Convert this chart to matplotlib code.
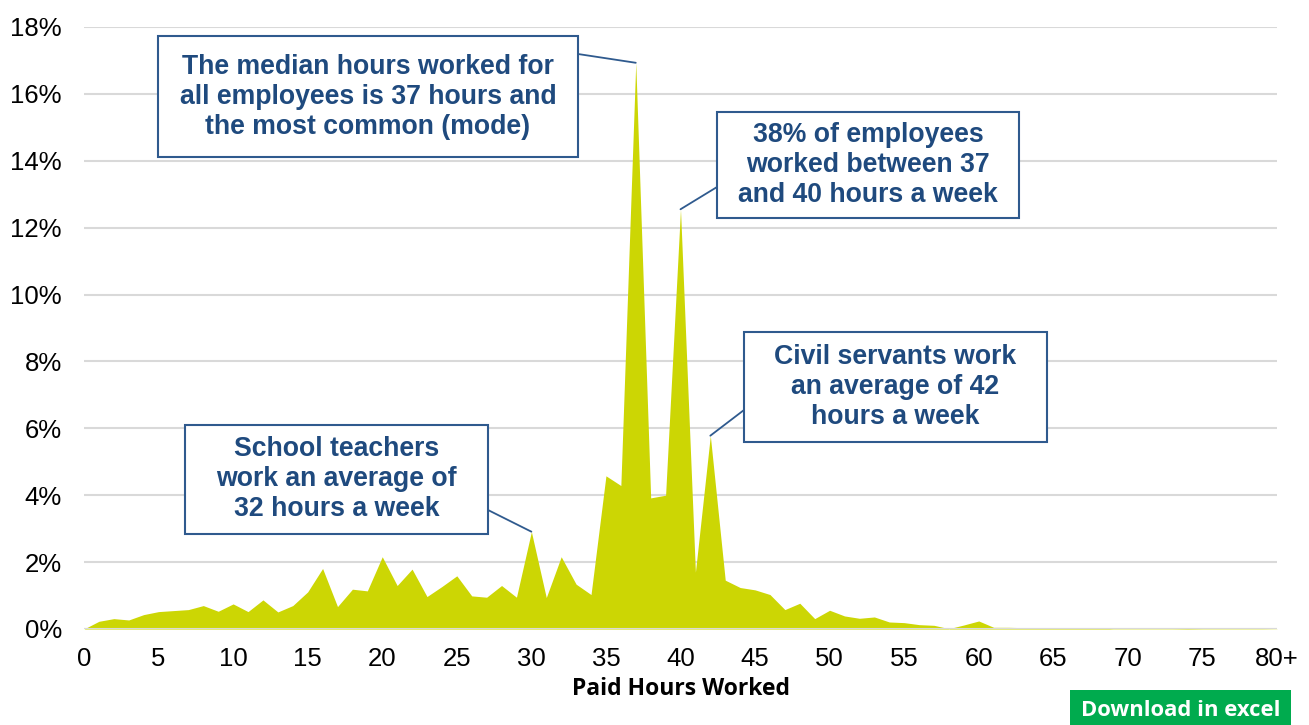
import matplotlib
matplotlib.use("Agg")
import matplotlib.pyplot as plt
from matplotlib.patches import Rectangle
import numpy as np

hours = list(range(0, 81))
share_pct = [0.00, 0.23, 0.31, 0.27, 0.43, 0.52, 0.55, 0.58, 0.70, 0.53,
             0.75, 0.52, 0.87, 0.51, 0.70, 1.11, 1.81, 0.67, 1.19, 1.14,
             2.16, 1.30, 1.79, 0.97, 1.27, 1.59, 0.99, 0.95, 1.30, 0.95,
             2.91, 0.94, 2.16, 1.34, 1.03, 4.58, 4.29, 16.93, 3.92, 4.00,
             12.55, 1.70, 5.78, 1.46, 1.24, 1.17, 1.03, 0.58, 0.77, 0.31,
             0.56, 0.39, 0.32, 0.36, 0.21, 0.19, 0.13, 0.11, 0.01, 0.12,
             0.24, 0.05, 0.05, 0.04, 0.03, 0.02, 0.015, 0.015, 0.03, 0.01,
             0.01, 0.01, 0.01, 0.01, 0.015, 0.01, 0.01, 0.01, 0.01, 0.01,
             0.005]
xtick_vals = list(range(0, 81, 5))
xtick_labels = [str(v) for v in range(0, 80, 5)] + ["80+"]
ytick_vals = list(range(0, 19, 2))
ytick_labels = [f"{v}%" for v in ytick_vals]

annotations = [
    ("The median hours worked for\nall employees is 37 hours and\nthe most common (mode)", 37),
    ("38% of employees\nworked between 37\nand 40 hours a week", 40),
    ("Civil servants work\nan average of 42\nhours a week", 42),
    ("School teachers\nwork an average of\n32 hours a week", 30),
]
# box geometry in pixels (left, top, right, bottom), leader start (x, y)
box_px = [(158, 36, 578, 157), (717, 112, 1019, 218),
          (744, 332, 1047, 442), (185, 425, 488, 534)]
lead_px = [(578, 54), (717, 187), (744, 410), (488, 510)]

W, H = 1309, 725
fig = plt.figure(figsize=(W / 100, H / 100), dpi=100)
ax = fig.add_axes([84 / W, 1 - 629 / H, (1277 - 84) / W, (629 - 27) / H])

FILL = "#ccd604"
TXT = "#1f4a7e"
BORDER = "#2f5a8e"
font = ["Liberation Sans", "Arial", "DejaVu Sans"]

ax.fill_between(hours, share_pct, 0, color=FILL, linewidth=0, zorder=3)
ax.set_xlim(0, 80)
ax.set_ylim(0, 18)
ax.set_yticks(ytick_vals)
ax.set_yticklabels(ytick_labels, fontsize=18.5, family=font)
ax.set_xticks(xtick_vals)
ax.set_xticklabels(xtick_labels, fontsize=18.5, family=font)
ax.tick_params(length=0, pad=16, colors="black")
ax.tick_params(axis="x", pad=13)
for s in ax.spines.values():
    s.set_visible(False)
ax.grid(axis="y", color="#d9d9d9", linewidth=1.5, zorder=1)
ax.axhline(0, color="#d9d9d9", linewidth=1.5, zorder=4)
ax.set_axisbelow(True)

ax.set_xlabel("Paid Hours Worked", fontsize=16.5, fontweight="bold",
              family=["Open Sans", "DejaVu Sans"], labelpad=4)

for (txt, h), (l, t, r, b), (lx, ly) in zip(annotations, box_px, lead_px):
    fig.patches.append(Rectangle((l / W, 1 - b / H), (r - l) / W, (b - t) / H,
                                 transform=fig.transFigure, facecolor="white",
                                 edgecolor=BORDER, linewidth=1.5, zorder=5))
    fig.text((l + r) / 2 / W, 1 - (t + b) / 2 / H, txt, ha="center",
             va="center", fontsize=19.2, fontweight="bold", color=TXT,
             family=font, linespacing=1.2, zorder=6)
    ax.annotate("", xy=(h, share_pct[h]), xycoords="data",
                xytext=(lx, H - ly), textcoords="figure pixels",
                arrowprops=dict(arrowstyle="-", color=BORDER, lw=1.3,
                                shrinkA=0, shrinkB=0), zorder=5)

# Download button
fig.patches.append(Rectangle((1070 / W, 0), (1291 - 1070) / W, 35 / H,
                             transform=fig.transFigure, facecolor="#00ab4e",
                             edgecolor="none", zorder=5))
fig.text((1070 + 1291) / 2 / W, 1 - 711 / H, "Download in excel", ha="center",
         va="center", fontsize=15.8, fontweight="bold", color="white",
         family=["Open Sans", "DejaVu Sans"], zorder=6)

fig.savefig("out.png", dpi=100)
